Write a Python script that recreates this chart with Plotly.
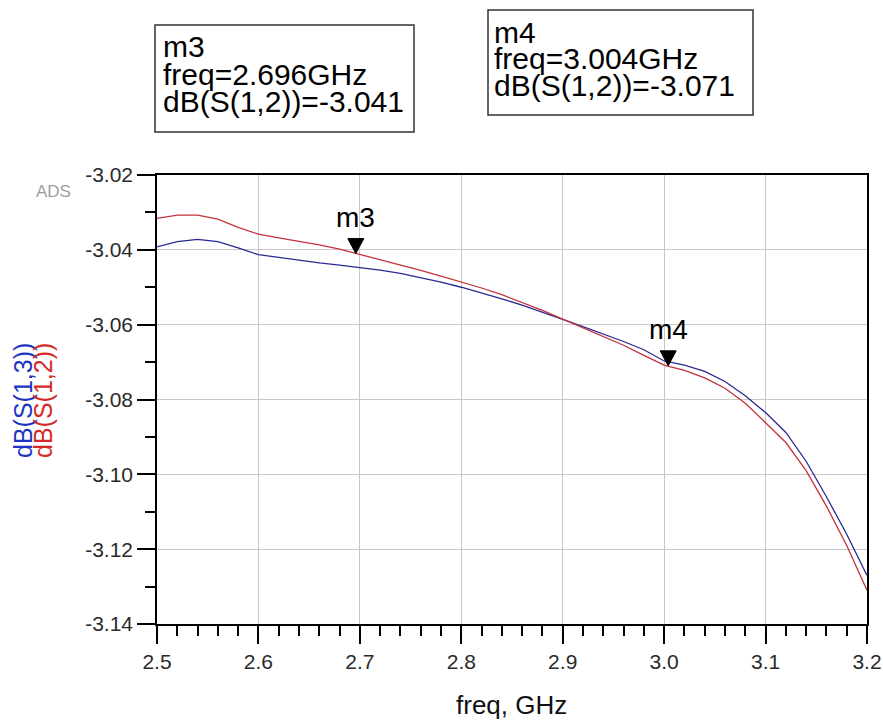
import plotly.graph_objects as go

# ---------------- data ----------------
freq = [2.50, 2.52, 2.54, 2.56, 2.58, 2.60, 2.62, 2.64, 2.66, 2.68, 2.70, 2.72,
        2.74, 2.76, 2.78, 2.80, 2.82, 2.84, 2.86, 2.88, 2.90, 2.92, 2.94, 2.96,
        2.98, 3.00, 3.02, 3.04, 3.06, 3.08, 3.10, 3.12, 3.14, 3.16, 3.18, 3.20]

s12_db = [-3.0316, -3.0307, -3.0307, -3.0318, -3.0340, -3.0358, -3.0368, -3.0377,
          -3.0387, -3.0398, -3.0412, -3.0425, -3.0440, -3.0455, -3.0470, -3.0485,
          -3.0502, -3.0520, -3.0540, -3.0562, -3.0585, -3.0608, -3.0630, -3.0655,
          -3.0682, -3.0708, -3.0722, -3.0742, -3.0770, -3.0810, -3.0862, -3.0915,
          -3.0990, -3.1085, -3.1190, -3.1310]

s13_db = [-3.0392, -3.0378, -3.0372, -3.0378, -3.0395, -3.0413, -3.0420, -3.0428,
          -3.0435, -3.0441, -3.0447, -3.0454, -3.0463, -3.0474, -3.0486, -3.0500,
          -3.0515, -3.0531, -3.0548, -3.0566, -3.0586, -3.0605, -3.0624, -3.0645,
          -3.0667, -3.0697, -3.0708, -3.0725, -3.0752, -3.0790, -3.0835, -3.0888,
          -3.0965, -3.1060, -3.1160, -3.1270]

marker_names = ["m3", "m4"]
marker_freq = [2.696, 3.004]
marker_val = [-3.041, -3.071]

x_ticks = [2.5, 2.6, 2.7, 2.8, 2.9, 3.0, 3.1, 3.2]
y_ticks = [-3.14, -3.12, -3.10, -3.08, -3.06, -3.04, -3.02]

# ---------------- layout helpers ----------------
W, H = 883, 721
PL, PT, PW, PH = 157, 175, 710, 449   # plot area on screen
L, T = PL, PT
R, B = W - L - PW, H - T - PH


def px(x):
    return (x - PL) / PW


def py(y):
    return (PT + PH - y) / PH


BLUE_LINE = "#2a2a92"
RED_LINE = "#c4323c"
FONT = "Liberation Sans, Arial, sans-serif"

fig = go.Figure()
fig.add_trace(go.Scatter(x=freq, y=s13_db, mode="lines", name="dB(S(1,3))",
                         line=dict(color=BLUE_LINE, width=1.3)))
fig.add_trace(go.Scatter(x=freq, y=s12_db, mode="lines", name="dB(S(1,2))",
                         line=dict(color=RED_LINE, width=1.3)))

axis_common = dict(
    showline=True, linecolor="black", linewidth=1.5, mirror=True,
    ticks="outside", ticklen=18, tickwidth=1.5, tickcolor="black",
    showgrid=True, gridcolor="#c8c8c8", gridwidth=1.2, zeroline=False,
    tickfont=dict(family=FONT, size=21, color="#2a2a2a"),
)

fig.update_xaxes(range=[2.5, 3.2], tickvals=x_ticks, ticktext=[f"{v:.1f}" for v in x_ticks],
                 minor=dict(dtick=0.02, tick0=2.5, ticks="outside", ticklen=10,
                            tickwidth=1.5, tickcolor="black", showgrid=False),
                 **axis_common)
fig.update_yaxes(range=[-3.14, -3.02], tickvals=y_ticks, ticktext=[f"{v:.2f}" for v in y_ticks],
                 minor=dict(dtick=0.01, tick0=-3.14, ticks="outside", ticklen=10,
                            tickwidth=1.5, tickcolor="black", showgrid=False),
                 **axis_common)

shapes = []
annotations = []

# marker triangles and labels
for name, mf, mv in zip(marker_names, marker_freq, marker_val):
    shapes.append(dict(type="path", xref="x", yref="y", xsizemode="pixel", ysizemode="pixel",
                       xanchor=mf, yanchor=mv, path="M-8,15 L8,15 L0,0 Z",
                       fillcolor="black", line=dict(color="black", width=1)))
    annotations.append(dict(x=mf, y=mv, xref="x", yref="y", text=name, showarrow=False,
                            xanchor="center", yanchor="middle",
                            yshift=36, font=dict(family=FONT, size=28, color="black")))

# marker info boxes
boxes = [
    (155, 414, 25, 132, 161, [47, 74, 101], 0),
    (488, 753, 10, 115, 492, [32, 59, 86], 1),
]
for x0, x1, y0, y1, tx, lines_y, idx in boxes:
    shapes.append(dict(type="rect", xref="paper", yref="paper",
                       x0=px(x0), x1=px(x1), y0=py(y0), y1=py(y1),
                       line=dict(color="#333333", width=1.5), fillcolor="white", layer="above"))
    texts = [marker_names[idx],
             f"freq={marker_freq[idx]:.3f}GHz",
             f"dB(S(1,2))={marker_val[idx]:.3f}"]
    for t, ly in zip(texts, lines_y):
        annotations.append(dict(x=px(tx), y=py(ly), xref="paper", yref="paper", text=t,
                                showarrow=False, xanchor="left", yanchor="middle",
                                font=dict(family=FONT, size=30, color="black")))

# axis titles
annotations.append(dict(x=px(511), y=py(705), xref="paper", yref="paper", text="freq, GHz",
                        xanchor="center", yanchor="middle",
                        showarrow=False, font=dict(family=FONT, size=26, color="#111111")))
annotations.append(dict(x=px(23), y=py(401), xref="paper", yref="paper", text="dB(S(1,3))",
                        textangle=-90, showarrow=False, xanchor="center", yanchor="middle",
                        font=dict(family=FONT, size=25, color="#1c35c4")))
annotations.append(dict(x=px(43), y=py(401), xref="paper", yref="paper", text="dB(S(1,2))",
                        textangle=-90, showarrow=False, xanchor="center", yanchor="middle",
                        font=dict(family=FONT, size=25, color="#d42a2a")))
annotations.append(dict(x=px(53), y=py(191), xref="paper", yref="paper", text="ADS",
                        xanchor="center", yanchor="middle",
                        showarrow=False, font=dict(family=FONT, size=17, color="#a0a0a0")))

fig.update_layout(
    width=W, height=H,
    margin=dict(l=L, r=R, t=T, b=B, autoexpand=False),
    paper_bgcolor="white", plot_bgcolor="white",
    showlegend=False,
    shapes=shapes, annotations=annotations,
)

fig.write_html(
    "out.html",
    config={"displayModeBar": False},
    post_script="document.body.style.margin='0';document.body.style.overflow='hidden';"
                "document.documentElement.style.overflow='hidden';",
)
